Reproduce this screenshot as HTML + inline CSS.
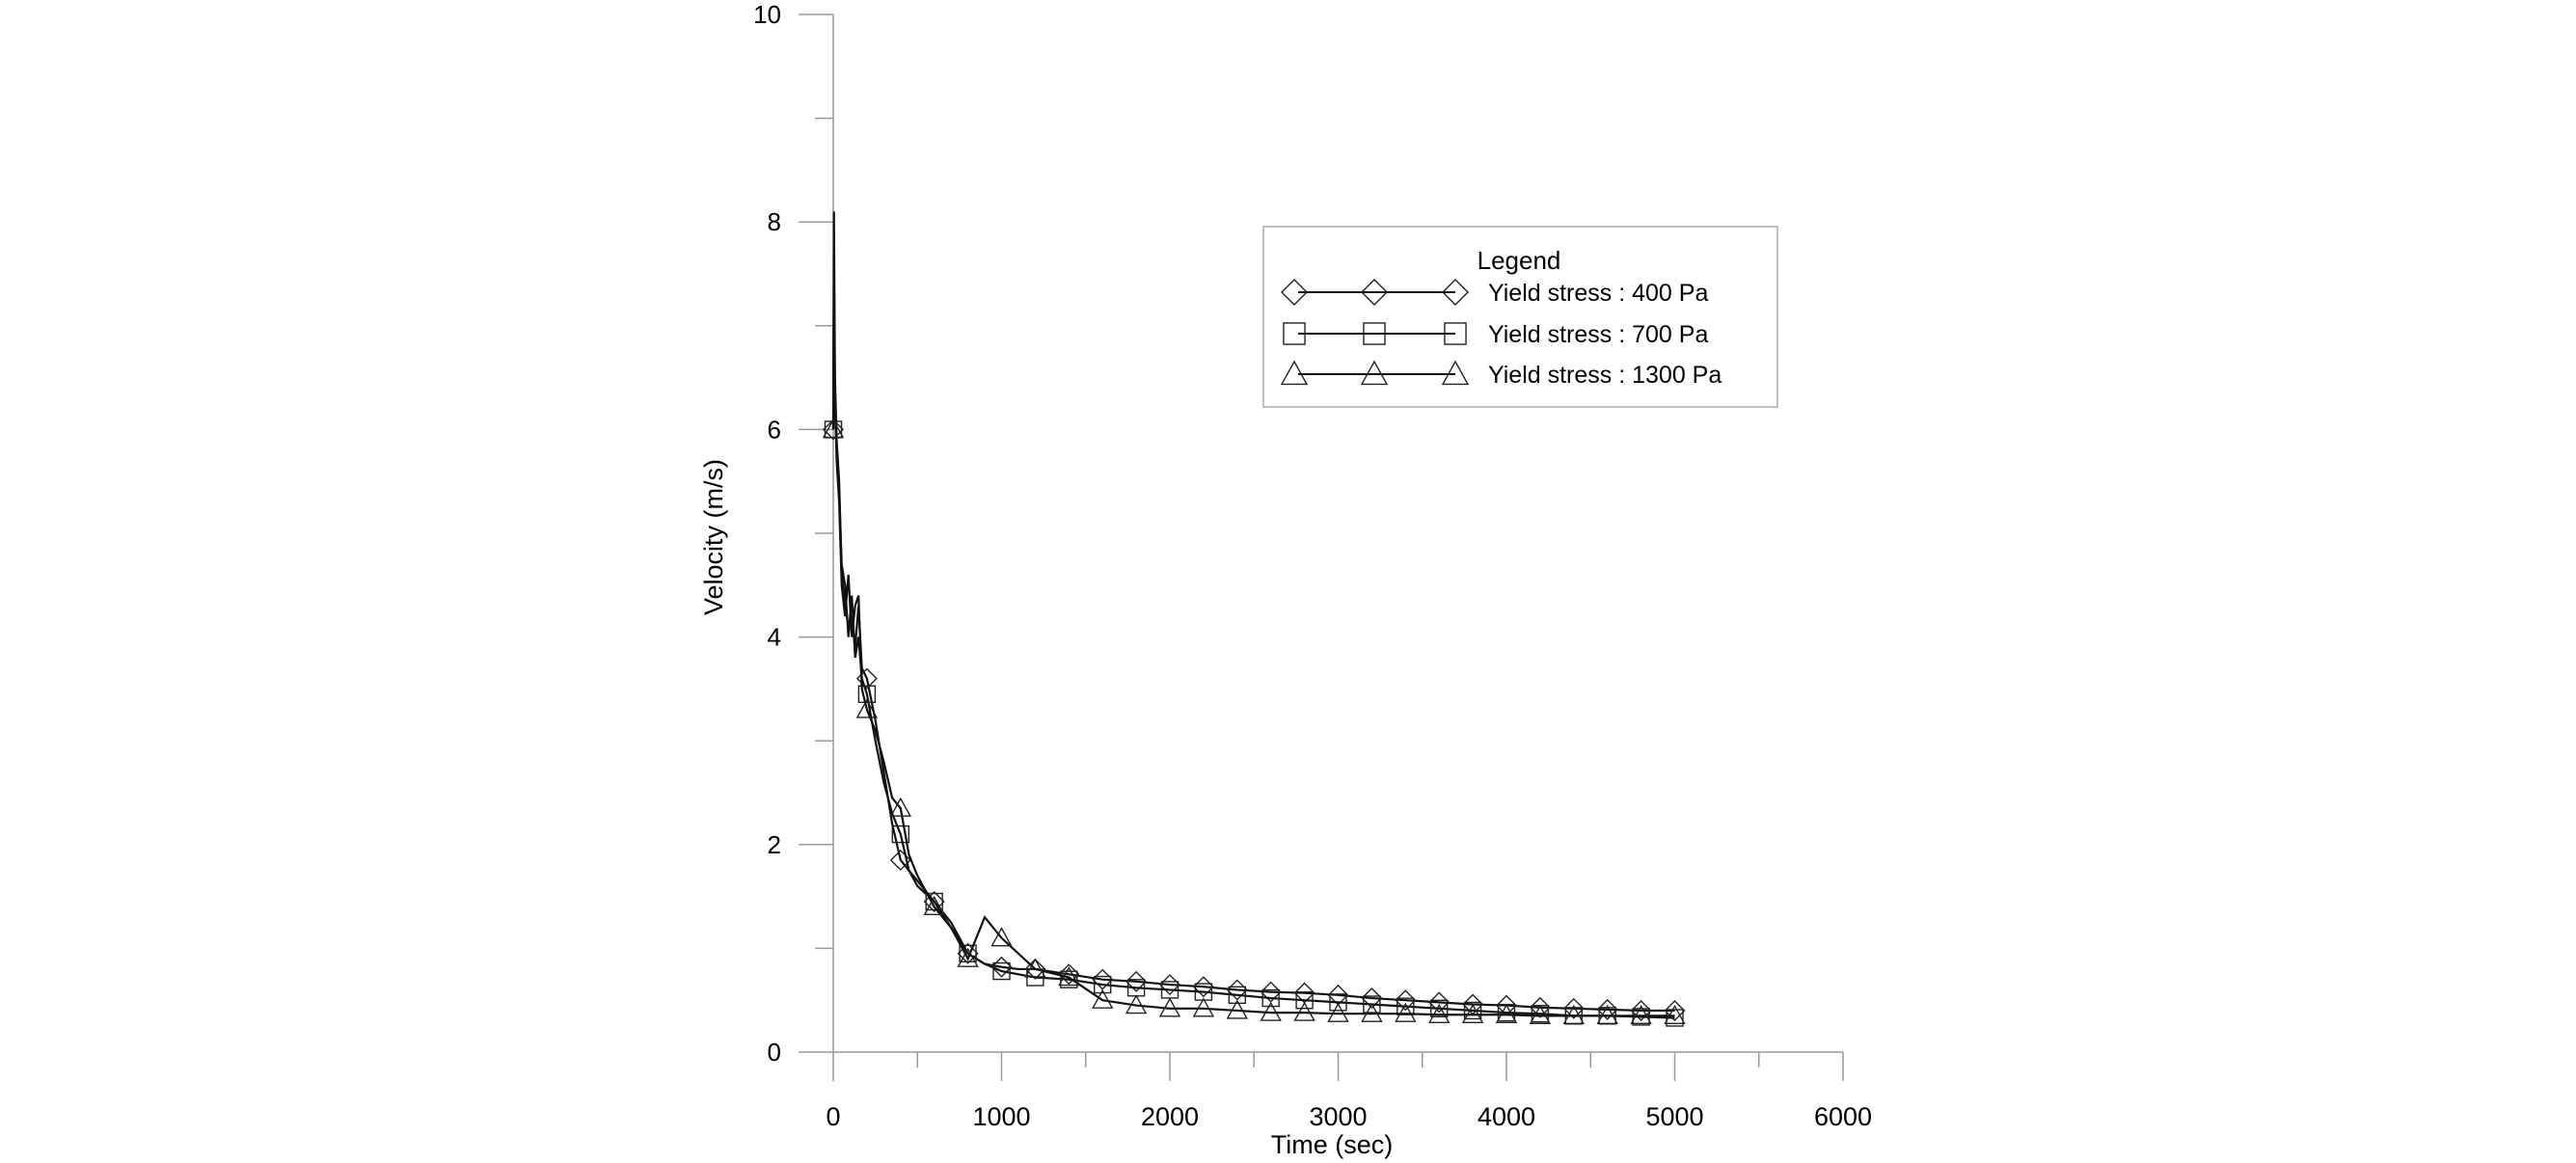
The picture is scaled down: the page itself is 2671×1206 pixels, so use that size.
<!DOCTYPE html>
<html><head><meta charset="utf-8"><style>
html,body{margin:0;padding:0;background:#fff;}
svg{display:block;font-family:"Liberation Sans",Arial,sans-serif;}
</style></head><body>
<svg id="chart" width="2671" height="1206" viewBox="0 0 2671 1206">
<g id="axes"></g>
<g id="series"></g>
<text x="749" y="557" transform="rotate(-90 749 557)" text-anchor="middle" font-size="27">Velocity (m/s)</text>
<text x="1381" y="1196" text-anchor="middle" font-size="27">Time (sec)</text>
<g id="legend">
<rect x="1310" y="235" width="533" height="187" fill="#fff" stroke="#aaa" stroke-width="1.5"/>
<text x="1575" y="279" text-anchor="middle" font-size="26">Legend</text>
</g>
</svg>
<script>
const tLine=[0,4,10,20,35,50,70,90,110,130,150,170,200,250,300,350,400,450,500,600,700,800,900,1000,1100,1200,1400,1600,1800,2000,2200,2400,2600,2800,3000,3200,3400,3600,3800,4000,4200,4400,4600,4800,5000];
const s400=[6.0,8.1,6.5,5.9,5.5,4.6,4.3,4.1,4.2,3.9,4.3,3.7,3.6,3.2,2.7,2.2,1.85,1.75,1.65,1.45,1.2,0.95,0.85,0.82,0.8,0.8,0.75,0.7,0.68,0.65,0.63,0.6,0.58,0.57,0.55,0.52,0.5,0.48,0.46,0.45,0.43,0.42,0.41,0.4,0.4];
const s700=[6.0,7.2,6.2,5.8,5.4,4.7,4.5,4.0,4.4,3.8,4.0,3.6,3.45,3.0,2.6,2.3,2.1,1.75,1.6,1.45,1.25,0.95,0.85,0.78,0.75,0.72,0.7,0.65,0.62,0.6,0.58,0.55,0.52,0.5,0.48,0.46,0.44,0.42,0.4,0.38,0.37,0.35,0.35,0.34,0.33];
const s1300=[6.0,7.5,6.4,5.7,5.3,4.5,4.2,4.6,4.0,4.3,4.4,3.5,3.3,3.1,2.8,2.45,2.35,1.9,1.7,1.4,1.2,0.9,1.3,1.1,0.95,0.8,0.72,0.5,0.45,0.42,0.42,0.4,0.38,0.38,0.37,0.37,0.37,0.36,0.36,0.36,0.35,0.35,0.35,0.35,0.35];
const xTicks=[0,1000,2000,3000,4000,5000,6000];
const yTicks=[0,2,4,6,8,10];
const seriesNames=["Yield stress : 400 Pa","Yield stress : 700 Pa","Yield stress : 1300 Pa"];
const NS="http://www.w3.org/2000/svg";
const X0=864,X1=1911,Y0=1091,Y1=15;
const xs=v=>X0+(v/6000)*(X1-X0);
const ys=v=>Y0-(v/10)*(Y0-Y1);
function mk(tag,attrs,parent){const e=document.createElementNS(NS,tag);for(const k in attrs)e.setAttribute(k,attrs[k]);parent.appendChild(e);return e;}
const axes=document.getElementById('axes');
let l=mk('line',{x1:X0,y1:Y1,x2:X0,y2:Y0,stroke:'#999','stroke-width':1.5},axes);


l=mk('line',{x1:X0,y1:Y0,x2:X1,y2:Y0,stroke:'#999','stroke-width':1.5},axes);


for(let v=0;v<=10;v++){const maj=v%2===0;const t=mk('line',{x1:maj?828:845,x2:X0,y1:ys(v),y2:ys(v),stroke:'#999','stroke-width':1.5},axes);

}
yTicks.forEach(v=>{const t=mk('text',{x:810,y:ys(v)+9,'text-anchor':'end','font-size':26},axes);t.textContent=v;

});
for(let v=0;v<=6000;v+=500){const maj=v%1000===0;const t=mk('line',{x1:xs(v),x2:xs(v),y1:Y0,y2:maj?1121:1107,stroke:'#999','stroke-width':1.5},axes);

}
xTicks.forEach(v=>{const t=mk('text',{x:xs(v),y:1167,'text-anchor':'middle','font-size':27},axes);t.textContent=v;

});
function marker(type,cx,cy,r,parent){let e;
if(type===0)e=mk('polygon',{points:`${cx},${cy-r} ${cx+r},${cy} ${cx},${cy+r} ${cx-r},${cy}`},parent);
else if(type===1)e=mk('rect',{x:cx-r*0.85,y:cy-r*0.85,width:r*1.7,height:r*1.7},parent);
else e=mk('polygon',{points:`${cx},${cy-r} ${cx+r},${cy+r*0.8} ${cx-r},${cy+r*0.8}`},parent);
e.setAttribute('fill','none');e.setAttribute('stroke','#222');e.setAttribute('stroke-width','1.4');return e;}
const sg=document.getElementById('series');
[s400,s700,s1300].forEach((s,i)=>{
const g=mk('g',{},sg);


const p=mk('polyline',{points:tLine.map((t,j)=>xs(t)+','+ys(s[j])).join(' '),fill:'none',stroke:'#111','stroke-width':2.2},g);


tLine.forEach((t,j)=>{if(t%200===0){const m=marker(i,xs(t),ys(s[j]),10,g);

}});
});
const lg=document.getElementById('legend');
const rowsY=[303,346,388];
seriesNames.forEach((n,i)=>{
const g=mk('g',{},lg);


mk('line',{x1:1346,x2:1509,y1:rowsY[i],y2:rowsY[i],stroke:'#111','stroke-width':2},g);
[1342,1425,1509].forEach(x=>marker(i,x,rowsY[i],13,g));
const t=mk('text',{x:1543,y:rowsY[i]+9,'font-size':25},g);t.textContent=n;
});
</script>
</body></html>
